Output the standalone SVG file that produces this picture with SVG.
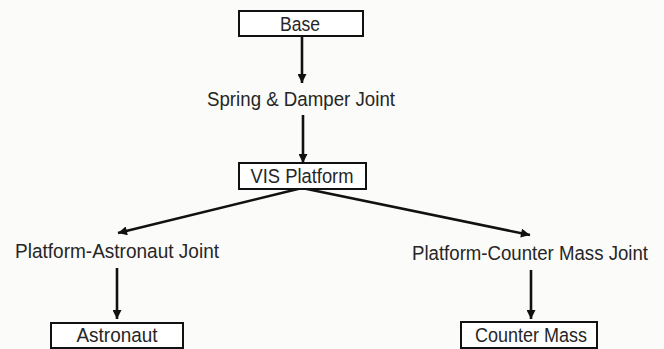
<svg xmlns="http://www.w3.org/2000/svg" width="664" height="349" viewBox="0 0 664 349">
<defs>
<marker id="ah" viewBox="0 0 10 10" refX="10" refY="5" markerWidth="11" markerHeight="9" markerUnits="userSpaceOnUse" orient="auto">
<path d="M0,0 L10,5 L0,10 Z" fill="#111"/>
</marker>
<style>
.box{fill:#fff;stroke:#111;stroke-width:2}
.t{font-family:"Liberation Sans","Arial",sans-serif;font-size:20.5px;fill:#262626;text-anchor:middle}
.c{stroke:#111;stroke-width:2.6;fill:none;marker-end:url(#ah)}
</style>
</defs>
<rect width="664" height="349" fill="#fbfbf9"/>
<g id="connectors">
<line class="c" x1="302" y1="36" x2="302" y2="83"/>
<line class="c" x1="303" y1="115" x2="303" y2="163"/>
<line class="c" x1="302" y1="188" x2="118" y2="233"/>
<line class="c" x1="302" y1="188" x2="530" y2="235"/>
<line class="c" x1="117" y1="268" x2="117" y2="319"/>
<line class="c" x1="531" y1="270" x2="531" y2="319"/>
</g>
<g id="base">
<rect class="box" x="239" y="11" width="124" height="25"/>
<text class="t" x="300" y="30.5" textLength="40" lengthAdjust="spacingAndGlyphs">Base</text>
</g>
<g id="spring">
<text class="t" x="301" y="106" textLength="188" lengthAdjust="spacingAndGlyphs">Spring &amp; Damper Joint</text>
</g>
<g id="vis">
<rect class="box" x="239" y="163" width="127" height="26"/>
<text class="t" x="302" y="183" textLength="103" lengthAdjust="spacingAndGlyphs">VIS Platform</text>
</g>
<g id="paj">
<text class="t" x="117" y="258" textLength="204" lengthAdjust="spacingAndGlyphs">Platform-Astronaut Joint</text>
</g>
<g id="pcj">
<text class="t" x="530" y="260" style="font-size:19.5px" textLength="236" lengthAdjust="spacingAndGlyphs">Platform-Counter Mass Joint</text>
</g>
<g id="astronaut">
<rect class="box" x="51" y="323" width="132" height="25"/>
<text class="t" x="117" y="342" textLength="81" lengthAdjust="spacingAndGlyphs">Astronaut</text>
</g>
<g id="counter">
<rect class="box" x="461" y="322" width="136" height="26"/>
<text class="t" x="531" y="342" textLength="112" lengthAdjust="spacingAndGlyphs">Counter Mass</text>
</g>
</svg>
